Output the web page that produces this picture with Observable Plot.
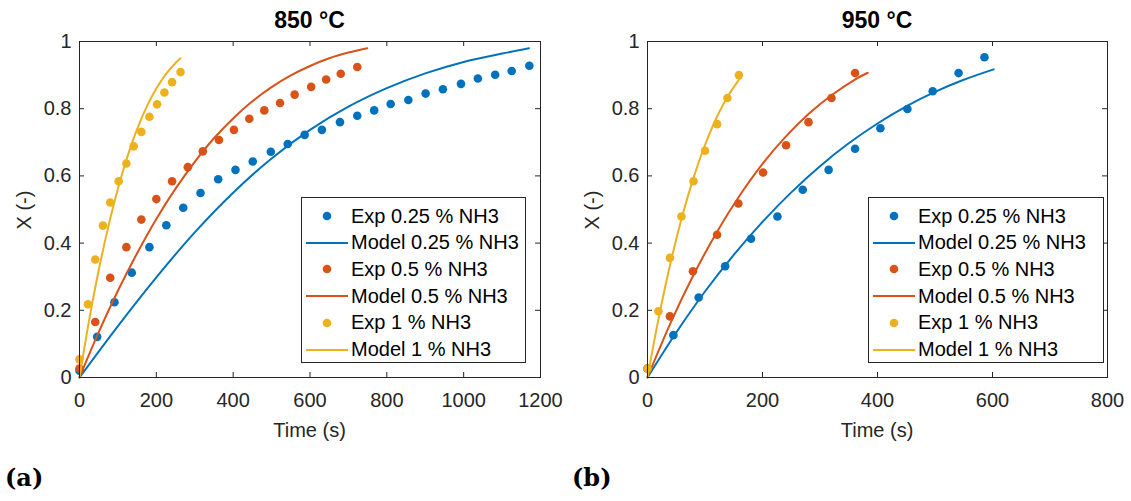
<!DOCTYPE html>
<html>
<head>
<meta charset="utf-8">
<script src="https://cdn.jsdelivr.net/npm/d3@7"></script>
<script src="https://cdn.jsdelivr.net/npm/@observablehq/plot@0.6"></script>
<style>
  html, body { margin: 0; padding: 0; background: #fff; }
  body { width: 1131px; height: 501px; position: relative; overflow: hidden; font-family: "Liberation Sans", Arial, sans-serif; }
  .abs { position: absolute; white-space: nowrap; }
  .title { font-weight: bold; font-size: 23px; color: #000; transform: translate(-50%, -50%); }
  .xlab { font-size: 20px; color: #262626; transform: translate(-50%, -50%); }
  .ylab { font-size: 20px; color: #262626; transform: translate(-50%, -50%) rotate(-90deg); }
  .tag { font-family: "DejaVu Serif", serif; font-weight: bold; font-size: 24px; color: #000; transform: translateY(-50%); }
  .legend { border: 1px solid #262626; background: #fff; box-sizing: border-box; }
  .row { position: absolute; left: 0; height: 26px; display: flex; align-items: center; font-size: 20px; color: #000; transform: translateY(-50%); }
</style>
</head>
<body>
<script>
// ---------- data ----------
const seriesNames = ["0.25 % NH3", "0.5 % NH3", "1 % NH3"];
const seriesColors = ["#0072BD", "#D95319", "#EDB120"];
const yTicks = [0, 0.2, 0.4, 0.6, 0.8, 1];
const xTicks850 = [0, 200, 400, 600, 800, 1000, 1200];
const xTicks950 = [0, 200, 400, 600, 800];

// 850 °C experiments
const exp850_025_t = [0, 46, 91, 136, 182, 226, 270, 315, 361, 406, 451, 498, 542, 586, 631, 678, 723, 767, 810, 856, 901, 946, 993, 1037, 1082, 1125, 1171];
const exp850_025_x = [0.020, 0.121, 0.224, 0.312, 0.388, 0.453, 0.505, 0.549, 0.590, 0.618, 0.643, 0.672, 0.695, 0.722, 0.737, 0.760, 0.779, 0.795, 0.814, 0.826, 0.845, 0.858, 0.874, 0.890, 0.901, 0.912, 0.928];
const exp850_05_t = [0, 41, 80, 122, 161, 200, 241, 282, 321, 363, 402, 442, 481, 522, 560, 603, 642, 680, 723];
const exp850_05_x = [0.027, 0.165, 0.297, 0.388, 0.470, 0.531, 0.584, 0.626, 0.673, 0.707, 0.737, 0.770, 0.795, 0.817, 0.842, 0.865, 0.887, 0.904, 0.924];
const exp850_1_t = [0, 22, 41, 61, 80, 102, 122, 141, 161, 182, 202, 221, 241, 263];
const exp850_1_x = [0.054, 0.218, 0.351, 0.452, 0.521, 0.584, 0.637, 0.688, 0.731, 0.776, 0.813, 0.848, 0.879, 0.909];
// 850 °C model
const mod850_025_t = [0, 100, 200, 300, 400, 500, 600, 700, 800, 900, 1000, 1100, 1170];
const mod850_025_x = [0, 0.153, 0.298, 0.432, 0.55, 0.652, 0.737, 0.806, 0.861, 0.905, 0.939, 0.964, 0.98];
const mod850_05_t = [0, 50, 100, 150, 200, 250, 300, 350, 400, 450, 500, 550, 600, 650, 700, 749];
const mod850_05_x = [0, 0.135, 0.258, 0.37, 0.472, 0.562, 0.642, 0.712, 0.771, 0.822, 0.864, 0.899, 0.927, 0.95, 0.967, 0.98];
const mod850_1_t = [0, 25, 50, 75, 100, 125, 150, 175, 200, 225, 250, 263];
const mod850_1_x = [0, 0.17, 0.319, 0.449, 0.562, 0.658, 0.739, 0.806, 0.86, 0.903, 0.936, 0.95];

// 950 °C experiments
const exp950_025_t = [0, 45, 89, 135, 180, 226, 270, 315, 361, 405, 452, 496, 541, 586];
const exp950_025_x = [0.027, 0.126, 0.238, 0.331, 0.413, 0.479, 0.559, 0.618, 0.681, 0.742, 0.799, 0.852, 0.906, 0.953];
const exp950_05_t = [0, 39, 79, 121, 158, 201, 241, 280, 320, 361];
const exp950_05_x = [0.027, 0.182, 0.316, 0.425, 0.518, 0.610, 0.691, 0.760, 0.832, 0.906];
const exp950_1_t = [0, 19, 39, 59, 80, 100, 121, 139, 159];
const exp950_1_x = [0.027, 0.197, 0.356, 0.479, 0.584, 0.675, 0.754, 0.832, 0.900];
// 950 °C model
const mod950_025_t = [0, 50, 100, 150, 200, 250, 300, 350, 400, 450, 500, 550, 602];
const mod950_025_x = [0, 0.134, 0.256, 0.365, 0.463, 0.551, 0.629, 0.697, 0.756, 0.807, 0.85, 0.886, 0.917];
const mod950_05_t = [0, 40, 80, 120, 160, 200, 240, 280, 320, 360, 383];
const mod950_05_x = [0, 0.162, 0.305, 0.431, 0.541, 0.636, 0.716, 0.784, 0.84, 0.886, 0.907];
const mod950_1_t = [0, 20, 40, 60, 80, 100, 120, 140, 161];
const mod950_1_x = [0, 0.182, 0.341, 0.478, 0.594, 0.692, 0.773, 0.838, 0.891];

// ---------- helpers ----------
const zip = (t, x) => t.map((v, i) => ({t: v, x: x[i]}));

function makePanel(cfg) {
  const H = cfg.height - cfg.marginTop - cfg.marginBottom;
  const W = cfg.width - cfg.marginLeft - cfg.marginRight;
  const marks = [];
  for (let s = 0; s < 3; s++) {
    marks.push(Plot.dot(zip(cfg.exp[s][0], cfg.exp[s][1]), {x: "t", y: "x", r: 4.3, fill: seriesColors[s], stroke: "none"}));
    marks.push(Plot.line(zip(cfg.mod[s][0], cfg.mod[s][1]), {x: "t", y: "x", stroke: seriesColors[s], strokeWidth: 2, curve: "catmull-rom"}));
  }
  const axisColor = "#262626";
  const plot = Plot.plot({
    width: cfg.width, height: cfg.height,
    marginLeft: cfg.marginLeft, marginRight: cfg.marginRight,
    marginTop: cfg.marginTop, marginBottom: cfg.marginBottom,
    style: {fontFamily: "Liberation Sans, Arial, sans-serif", fontSize: "20px", color: axisColor, background: "transparent", overflow: "visible"},
    x: {domain: cfg.xDomain},
    y: {domain: [0, 1]},
    marks: [
      Plot.axisX({ticks: cfg.xTicks, tickSize: 0, tickPadding: 15, label: null, tickFormat: d => String(d)}),
      Plot.axisY({ticks: yTicks, tickSize: 0, tickPadding: 8, label: null, tickFormat: d => String(d)}),
      Plot.tickX(cfg.xTicks, {x: d => d, insetTop: H - 5, stroke: axisColor}),
      Plot.tickX(cfg.xTicks, {x: d => d, insetBottom: H - 5, stroke: axisColor}),
      Plot.tickY(yTicks, {y: d => d, insetRight: W - 5, stroke: axisColor}),
      Plot.tickY(yTicks, {y: d => d, insetLeft: W - 5, stroke: axisColor}),
      ...marks,
      Plot.frame({stroke: axisColor, strokeWidth: 1})
    ]
  });
  const wrap = document.createElement("div");
  wrap.className = "abs";
  wrap.style.left = cfg.left + "px";
  wrap.style.top = "0px";
  wrap.appendChild(plot);
  document.body.appendChild(wrap);

  const fx0 = cfg.left + cfg.marginLeft, fx1 = cfg.left + cfg.width - cfg.marginRight;
  const cx = (fx0 + fx1) / 2;
  const add = (cls, text, x, y) => {
    const d = document.createElement("div");
    d.className = "abs " + cls;
    d.textContent = text;
    d.style.left = x + "px"; d.style.top = y + "px";
    document.body.appendChild(d);
    return d;
  };
  add("title", cfg.title, cx, 20);
  add("xlab", "Time (s)", cx, 430);
  add("ylab", "X (-)", cfg.ylabX, 210);
  add("tag", cfg.tag, cfg.tagX, 477);

  // legend
  const lg = document.createElement("div");
  lg.className = "abs legend";
  lg.style.left = cfg.legend.left + "px";
  lg.style.top = "197px";
  lg.style.width = cfg.legend.width + "px";
  lg.style.height = "166px";
  const rowsY = [18, 44.7, 71.4, 98.1, 124.8, 151.5];
  let r = 0;
  for (let s = 0; s < 3; s++) {
    for (const kind of ["Exp", "Model"]) {
      const row = document.createElement("div");
      row.className = "row";
      row.style.top = rowsY[r++] + "px";
      const sym = `<svg width="48" height="20" style="flex:none">` +
        (kind === "Exp"
          ? `<circle cx="25" cy="10" r="4.3" fill="${seriesColors[s]}"/>`
          : `<line x1="4" x2="46" y1="10" y2="10" stroke="${seriesColors[s]}" stroke-width="2"/>`) +
        `</svg>`;
      row.innerHTML = sym + `<span style="margin-left:1px">${kind} ${seriesNames[s]}</span>`;
      lg.appendChild(row);
    }
  }
  document.body.appendChild(lg);
}

makePanel({
  left: 0, width: 565, height: 440, marginLeft: 79, marginRight: 25, marginTop: 41, marginBottom: 63,
  xDomain: [0, 1200], xTicks: xTicks850, title: "850 °C", tag: "(a)", tagX: 5, ylabX: 24,
  exp: [[exp850_025_t, exp850_025_x], [exp850_05_t, exp850_05_x], [exp850_1_t, exp850_1_x]],
  mod: [[mod850_025_t, mod850_025_x], [mod850_05_t, mod850_05_x], [mod850_1_t, mod850_1_x]],
  legend: {left: 301, width: 225}
});
makePanel({
  left: 565, width: 566, height: 440, marginLeft: 82, marginRight: 24, marginTop: 41, marginBottom: 63,
  xDomain: [0, 800], xTicks: xTicks950, title: "950 °C", tag: "(b)", tagX: 572, ylabX: 592,
  exp: [[exp950_025_t, exp950_025_x], [exp950_05_t, exp950_05_x], [exp950_1_t, exp950_1_x]],
  mod: [[mod950_025_t, mod950_025_x], [mod950_05_t, mod950_05_x], [mod950_1_t, mod950_1_x]],
  legend: {left: 868, width: 236}
});
</script>
</body>
</html>
